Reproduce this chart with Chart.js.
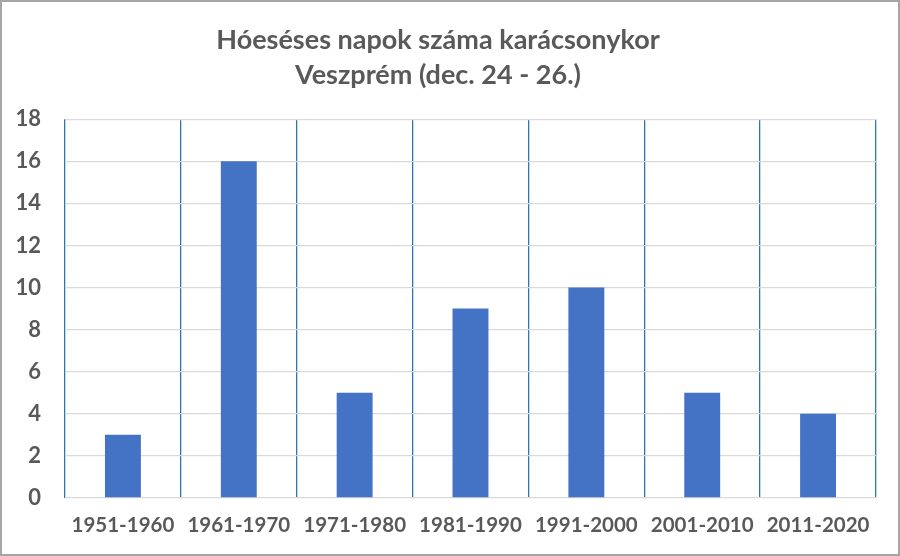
<!DOCTYPE html>
<html>
<head>
<meta charset="utf-8">
<script src="https://cdn.jsdelivr.net/npm/chart.js@4/dist/chart.umd.min.js"></script>
<style>
html,body{margin:0;padding:0;background:#fff;}
#wrap{width:900px;height:556px;position:relative;}
</style>
</head>
<body>
<div id="wrap"><canvas id="c" width="900" height="556"></canvas></div>
<script>
const titleLines = ["Hóeséses napok száma karácsonykor", "Veszprém (dec. 24 - 26.)"];
const categories = ["1951-1960","1961-1970","1971-1980","1981-1990","1991-2000","2001-2010","2011-2020"];
const snowDays = [3, 16, 5, 9, 10, 5, 4];
const yMin = 0, yMax = 18, yStep = 2;

const borderPlugin = {
  id: 'frame',
  beforeDraw(chart) {
    const ctx = chart.ctx;
    ctx.save();
    ctx.fillStyle = '#ffffff';
    ctx.fillRect(0, 0, chart.width, chart.height);
    ctx.restore();
  },
  afterDraw(chart) {
    const ctx = chart.ctx;
    ctx.save();
    ctx.strokeStyle = '#a6a6a6';
    ctx.lineWidth = 2;
    ctx.strokeRect(1, 1, chart.width - 2, chart.height - 2);
    ctx.restore();
  }
};

new Chart(document.getElementById('c'), {
  type: 'bar',
  data: {
    labels: categories,
    datasets: [{
      data: snowDays,
      backgroundColor: '#4472C4',
      borderWidth: 0,
      categoryPercentage: 1.0,
      barPercentage: 0.31
    }]
  },
  options: {
    responsive: false,
    animation: false,
    devicePixelRatio: 1,
    layout: { padding: { left: 0, right: 24, top: 0, bottom: 0 } },
    plugins: {
      legend: { display: false },
      tooltip: { enabled: false },
      title: {
        display: true,
        text: titleLines,
        color: '#595959',
        font: { family: 'Lato', size: 27, weight: 'bold', lineHeight: 1.3 },
        padding: { top: 22.5, bottom: 26.5 }
      }
    },
    scales: {
      x: {
        grid: { display: true, offset: true, color: '#2E75B6', lineWidth: 1.3, drawTicks: false },
        border: { display: false },
        ticks: { color: '#595959', font: { family: 'Lato', size: 20.5, weight: 'bold' }, padding: 15, maxRotation: 0, autoSkip: false },
        afterFit(scale) { scale.height = 58; }
      },
      y: {
        min: yMin, max: yMax,
        grid: { color: '#d9d9d9', lineWidth: 1.3, drawTicks: false },
        border: { display: false },
        ticks: { stepSize: yStep, color: '#595959', font: { family: 'Lato', size: 22, weight: 'bold' }, padding: 24 },
        afterFit(scale) { scale.width = 65; }
      }
    }
  },
  plugins: [borderPlugin]
});
</script>
</body>
</html>
